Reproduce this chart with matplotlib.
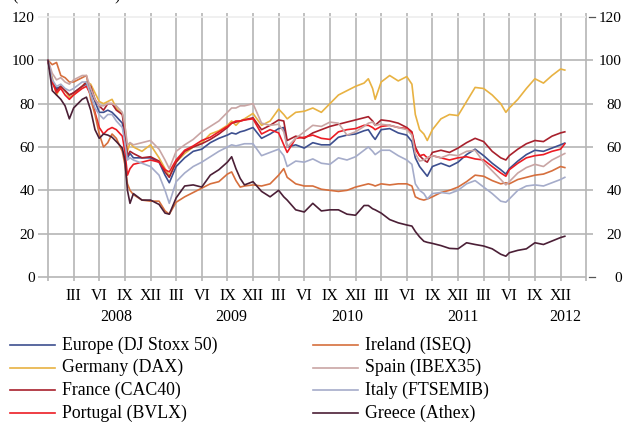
import matplotlib
matplotlib.use('Agg')
import matplotlib.pyplot as plt
from matplotlib.lines import Line2D
from matplotlib import transforms

plt.rcParams['font.family'] = ['Liberation Serif', 'DejaVu Serif']

# months since 1 January 2008
months = [0, 0.5, 1, 1.5, 2, 2.5, 3, 4, 4.5, 5,
          5.5, 6, 6.5, 7, 7.5, 8, 8.7, 9, 9.3, 9.6,
          10, 11, 12, 13, 13.7, 14.2, 15, 16, 17, 18,
          19, 20, 21, 21.5, 22, 22.5, 23, 24, 25, 26,
          27, 27.6, 28, 29, 30, 31, 32, 33, 34, 35,
          36, 37, 37.5, 38, 38.3, 39, 40, 41, 42, 42.6,
          43, 43.5, 44, 44.4, 45, 46, 47, 48, 49, 50,
          51, 52, 53, 53.6, 54, 55, 56, 57, 58, 59,
          60, 60.5]

europe = [100, 90, 87, 88, 86, 84, 85, 88, 89, 86,
          81, 76, 76, 77, 76, 74, 71, 64, 55, 57,
          55, 55, 55, 53, 47, 43.5, 51, 55, 58, 59,
          62, 64, 65.5, 66.5, 66, 67, 67.5, 69, 64, 66,
          68.5, 69, 60, 61, 59.5, 62, 61, 61, 64.5, 65.5,
          66, 67.5, 68, 65, 63.5, 68, 68.5, 66.5, 65.5, 62.5,
          55, 51, 48.5, 46.5, 51, 52.5, 51, 53, 56.5, 59,
          56, 52.5, 49.5, 47.5, 50, 53.5, 56.5, 58.5, 58, 59.5,
          61, 61.8]

germany = [100, 92, 84, 88, 86, 83, 84, 88, 90, 89,
           85, 81, 80, 81, 82, 78, 75, 70, 58, 62,
           60, 58, 61, 55, 50, 46.5, 53, 57, 60, 62,
           66, 67.5, 70, 72, 70, 72, 73, 75.5, 70, 72,
           77.5, 75, 73, 76, 76.5, 78, 76, 80, 84, 86,
           88, 89.5, 91.5, 87, 82, 90, 93, 90.5, 92.5, 89,
           75, 68, 66, 63, 68, 73, 75, 74.5, 81, 87.5,
           87, 84, 80, 76, 78, 82, 87, 91.5, 89.5, 93,
           96, 95.5]

france = [100, 90, 86, 88, 86, 84, 85, 88, 90, 88,
          82, 79, 77, 80, 80, 77, 75, 66, 56, 58,
          57, 55, 55.5, 53.5, 48.5, 46, 53, 58, 60, 61.5,
          63.5, 66, 69, 71, 71.5, 72, 72.5, 73.5, 68, 70,
          72.5, 72, 63, 65, 64, 66.5, 68, 69.5, 70.5, 71.5,
          72.5, 73.5, 74, 72, 70, 72.5, 72, 71, 69, 67,
          60, 56, 54, 53, 57.5, 58.5, 57.5, 59.5, 62, 64,
          62.5, 58, 55, 54, 56, 59, 61.5, 63, 62.5, 65,
          66.5, 67]

portugal = [100, 90, 85, 87, 84, 82, 84, 87, 88, 84,
            76, 69, 66, 68, 69, 68, 65, 58, 47, 50,
            52, 53, 54, 53, 49.5, 48.5, 54, 58.5, 60.5, 63,
            64.5, 67, 69.5, 71, 72, 72, 72.5, 73, 66, 68,
            66.5, 61, 57.5, 64, 64.5, 65.5, 64, 63.5, 67, 68,
            68.5, 70, 70, 69, 68, 69.5, 70, 69, 68.5, 66.5,
            59, 56, 56.5, 55, 56, 55, 54, 55, 55.5, 54.5,
            54, 51, 48, 46.5, 49.5, 52.5, 55, 56, 56.5, 58,
            59, 61.5]

ireland = [100, 98, 99, 93, 92, 90, 90, 92, 93, 82,
           75, 66, 60, 62, 66, 64, 58, 52, 43, 40,
           38, 35.5, 35, 35, 30.5, 29, 34.5, 37, 39, 41,
           43, 44, 47.5, 48.5, 44.5, 41.5, 42, 42.5, 42, 43,
           47, 50, 46, 43, 42, 42, 40.5, 40, 39.5, 40,
           41.5, 42.5, 43, 42.5, 42, 43, 42.5, 43, 43, 42,
           37, 36, 35.5, 36, 37, 39, 40, 41.5, 44, 47,
           46.5, 44.5, 43, 43.5, 43, 45, 46, 47, 47.5, 49,
           51, 50.5]

spain = [100, 94, 91, 92, 90, 89, 91, 93, 93, 87,
         82, 79, 79, 80, 80, 79, 76, 70, 61, 62,
         61, 62, 63, 59, 54, 50, 58, 61, 63.5, 67,
         69.5, 72, 76, 78, 78, 79, 79, 80, 71, 70,
         70.5, 67, 60, 64, 67, 70, 69.5, 71.5, 71, 65.5,
         67, 69.5, 71, 71.5, 70, 70.5, 70, 69, 68, 65.5,
         57, 53.5, 54, 55, 56, 55, 56.5, 56, 58, 58.5,
         53, 49, 45, 42.5, 44, 48, 50.5, 52, 51, 54,
         56, 57]

italy = [100, 91, 88, 89, 87, 86, 87, 90, 90, 84,
         78, 75, 73, 75, 75, 72, 69, 62, 54, 55,
         54, 52.5, 51, 47, 40, 34, 44, 48, 51, 53,
         55.5, 58, 60, 61, 60.5, 61, 61.5, 61.5, 56, 57.5,
         59, 56, 51, 53.5, 53, 54.5, 52.5, 52, 55, 54,
         55.5, 58.5, 60, 58, 56.5, 58.5, 58.5, 56, 54, 52,
         43, 40, 38.5, 36, 38.5, 39, 38.5, 40, 43, 44.5,
         41.5, 38.5, 35, 34.5, 36, 40, 42, 42.5, 42, 43.5,
         45, 46]

greece = [100, 86, 84, 82, 79, 73, 78, 82, 83, 77,
          68, 64, 66, 65.5, 64.5, 62.5, 59.5, 54, 40, 34,
          38.5, 35.5, 35.5, 33.5, 29.5, 29, 36.5, 42, 42.5, 41.5,
          47, 49.5, 53, 55.5, 50, 45.5, 42.5, 44, 39.5, 37,
          40, 37, 35.5, 31, 30, 34, 30.5, 31, 31, 29,
          28.5, 33, 33, 31.5, 31, 29.5, 26.5, 25, 24, 23.5,
          21, 18.5, 16.5, 16, 15.5, 14.5, 13.2, 13, 15.8, 15,
          14.3, 13, 10.5, 9.6, 11.2, 12.3, 13, 15.8, 15, 16.6,
          18.2, 18.8]

labels = ['Europe (DJ Stoxx 50)', 'Germany (DAX)', 'France (CAC40)', 'Portugal (BVLX)',
          'Ireland (ISEQ)', 'Spain (IBEX35)', 'Italy (FTSEMIB)', 'Greece (Athex)']
series = [europe, germany, france, portugal, ireland, spain, italy, greece]
colors = ['#3d4f8f', '#e8b242', '#a8202c', '#ec1c24',
          '#d66f3d', '#c9a5a4', '#a5acca', '#4b1f36']

quarter_labels = ['III', 'VI', 'IX', 'XII'] * 5
years = ['2008', '2009', '2010', '2011', '2012']
year_pos = [7.96, 21.5, 35.06, 48.58, 60.5]

W, H = 624, 423
fig = plt.figure(figsize=(W / 100, H / 100), dpi=100)
ax = fig.add_axes([38 / W, 1 - 281 / H, (593 - 38) / W, (281 - 13) / H])
ax.set_xlim(-1.17, 63.8)
ax.set_ylim(-1.85, 121.85)
for s in ax.spines.values():
    s.set_visible(False)

grid_c = '#b5b5b5'
# vertical grid every quarter
for m in range(0, 64, 3):
    ax.axvline(m, color=grid_c, lw=1.2, zorder=0)
# horizontal grid
for v in [20, 40, 60, 80, 100]:
    ax.axhline(v, color=grid_c, lw=1.2, zorder=0)
ax.hlines(0, -1.17, 63.0, color=grid_c, lw=1.2, zorder=0)
ax.hlines(120, -1.17, 63.0, color='#eeeeee', lw=1.2, zorder=0)
for v in [0, 120]:
    ax.plot([63.35, 64.05], [v, v], color='#555555', lw=0.9, clip_on=False)

for vals, c in zip(series, colors):
    ax.plot(months, vals, color=c, lw=1.2, zorder=2)

ax.set_xticks(range(3, 61, 3))
ax.set_xticklabels(quarter_labels, fontsize=11.5)
ax.set_yticks(range(0, 121, 20))
ax.set_yticklabels([str(v) for v in range(0, 121, 20)], fontsize=11)
ax.tick_params(axis='x', length=0, pad=5)
ax.tick_params(axis='y', length=0, pad=2.2)

ax2 = ax.twinx()
ax2.set_ylim(ax.get_ylim())
ax2.set_yticks(range(0, 121, 20))
ax2.set_yticklabels([str(v) for v in range(0, 121, 20)], fontsize=11, ha='right')
ax2.tick_params(axis='y', length=0, pad=20.9)
for s in ax2.spines.values():
    s.set_visible(False)

trans = transforms.blended_transform_factory(ax.transData, fig.transFigure)
for yr, p in zip(years, year_pos):
    fig.text(p, 1 - 316.5 / H, yr, transform=trans, ha='center', va='center', fontsize=11.5)

# unit note, cut by the top edge as in the source
fig.text(13 / W, 1 - 0.5 / H, '(1.1.2008 = 100)', fontsize=11.5, va='baseline')

# legend, two columns
for i, (lab, c) in enumerate(zip(labels, colors)):
    col, row = divmod(i, 4)
    y = 1 - (345 + row * 22.7) / H
    x0 = [10, 313][col]
    fig.add_artist(Line2D([x0 / W, (x0 + 45) / W], [y, y], color=c, lw=1.2))
    fig.text((x0 + 52) / W, y, lab, fontsize=12.8, va='center')

fig.savefig('out.png', dpi=100)
